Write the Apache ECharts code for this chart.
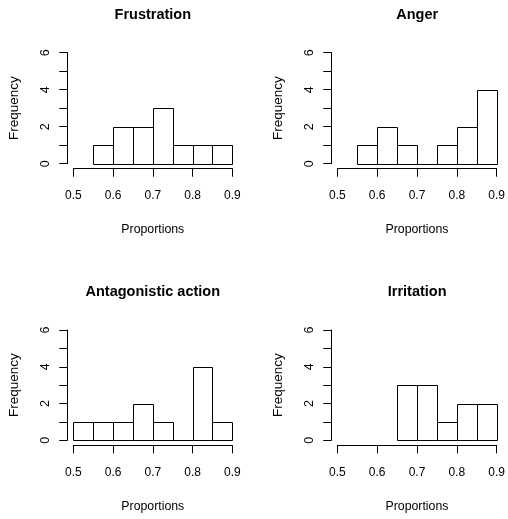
<!DOCTYPE html>
<html>
<head>
<meta charset="utf-8">
<script src="https://cdn.jsdelivr.net/npm/echarts@6/dist/echarts.min.js"></script>
<style>
  html, body { margin: 0; padding: 0; background: #fff; }
  #chart { width: 508px; height: 519px; }
</style>
</head>
<body>
<div id="chart"></div>
<script>
// histogram bin edges shared by every panel
const breaks = [0.5, 0.55, 0.6, 0.65, 0.7, 0.75, 0.8, 0.85, 0.9];

// counts per bin (null = bin not part of that histogram)
const frustration = [null, 1, 2, 2, 3, 1, 1, 1];
const anger = [null, 1, 2, 1, 0, 1, 2, 4];
const antagonistic = [1, 1, 1, 2, 1, 0, 4, 1];
const irritation = [null, null, null, 3, 3, 1, 2, 2];

const titles = ['Frustration', 'Anger', 'Antagonistic action', 'Irritation'];
const panels = [frustration, anger, antagonistic, irritation];

const xTicks = [0.5, 0.6, 0.7, 0.8, 0.9];
const yMax = 6;

const FONT = '"Liberation Sans", Arial, sans-serif';

const grids = [
  { left: 73.3, top: 52.7, width: 159, height: 111 },
  { left: 337.3, top: 52.7, width: 159.7, height: 111 },
  { left: 73.3, top: 330, width: 159, height: 110.3 },
  { left: 337.3, top: 330, width: 159.7, height: 110.3 }
];

function binData(counts) {
  const out = [];
  counts.forEach((c, i) => {
    if (c !== null) out.push([breaks[i], breaks[i + 1], c]);
  });
  return out;
}

function renderBar(params, api) {
  const p0 = api.coord([api.value(0), 0]);
  const p1 = api.coord([api.value(1), api.value(2)]);
  const x0 = Math.round(p0[0]) + 0.5;
  const x1 = Math.round(p1[0]) + 0.5;
  const y0 = Math.round(p0[1]) + 0.5;
  const y1 = Math.round(p1[1]) + 0.5;
  return {
    type: 'rect',
    shape: { x: x0, y: y1, width: x1 - x0, height: y0 - y1 },
    style: { fill: '#fff', stroke: '#000', lineWidth: 1 }
  };
}

const chart = echarts.init(document.getElementById('chart'));

const option = {
  animation: false,
  backgroundColor: '#fff',
  grid: grids.map(g => Object.assign({ containLabel: false }, g)),
  xAxis: grids.map((g, i) => ({
    type: 'value',
    gridIndex: i,
    min: xTicks[0],
    max: xTicks[xTicks.length - 1],
    interval: 0.1,
    offset: 5,
    splitLine: { show: false },
    axisLine: { show: true, onZero: false, lineStyle: { color: '#000', width: 1 } },
    axisTick: { show: true, length: 8, lineStyle: { color: '#000' } },
    axisLabel: {
      color: '#000', fontFamily: FONT, fontSize: 12, margin: 21,
      formatter: v => v.toFixed(1)
    },
    name: 'Proportions',
    nameLocation: 'middle',
    nameGap: 55,
    nameTextStyle: { color: '#000', fontFamily: FONT, fontSize: 12.3 }
  })),
  yAxis: grids.map((g, i) => ({
    type: 'value',
    gridIndex: i,
    min: 0,
    max: yMax,
    interval: 1,
    offset: 6,
    splitLine: { show: false },
    axisLine: { show: true, onZero: false, lineStyle: { color: '#000', width: 1 } },
    axisTick: { show: true, length: 8, lineStyle: { color: '#000' } },
    axisLabel: {
      color: '#000', fontFamily: FONT, fontSize: 12.5, margin: 15, rotate: 90,
      formatter: v => (v % 2 === 0 ? String(v) : '')
    },
    name: 'Frequency',
    nameLocation: 'middle',
    nameGap: 46,
    nameTextStyle: { color: '#000', fontFamily: FONT, fontSize: 13.5 }
  })),
  graphic: grids.map((g, i) => ({
    type: 'text',
    x: g.left + g.width / 2,
    y: i < 2 ? 15 : 291.7,
    style: {
      text: titles[i],
      fill: '#000',
      font: 'bold 14.5px ' + FONT,
      textAlign: 'center',
      textVerticalAlign: 'middle'
    }
  })),
  series: panels.map((counts, i) => ({
    type: 'custom',
    xAxisIndex: i,
    yAxisIndex: i,
    renderItem: renderBar,
    encode: { x: [0, 1], y: 2 },
    data: binData(counts)
  }))
};

chart.setOption(option);
</script>
</body>
</html>
